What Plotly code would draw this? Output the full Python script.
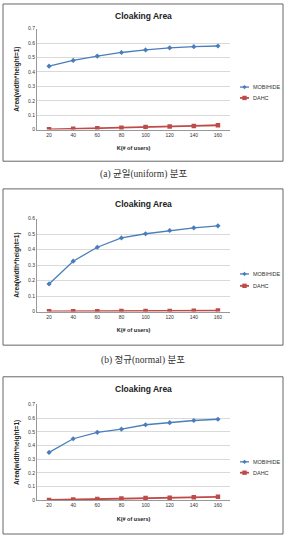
import plotly.graph_objects as go

W, H = 286, 538
k_users = ["20", "40", "60", "80", "100", "120", "140", "160"]
mobihide_uniform = [0.44, 0.48, 0.51, 0.535, 0.553, 0.567, 0.575, 0.58]
dahc_uniform = [0.002, 0.005, 0.010, 0.013, 0.018, 0.021, 0.025, 0.030]
mobihide_normal = [0.178, 0.325, 0.415, 0.475, 0.502, 0.523, 0.540, 0.553]
dahc_normal = [0.001, 0.002, 0.002, 0.003, 0.003, 0.004, 0.005, 0.006]
mobihide_third = [0.35, 0.45, 0.497, 0.52, 0.552, 0.567, 0.583, 0.592]
dahc_third = [0.003, 0.007, 0.011, 0.014, 0.017, 0.019, 0.022, 0.026]
y_ticks_07 = [0, 0.1, 0.2, 0.3, 0.4, 0.5, 0.6, 0.7]
y_ticks_06 = [0, 0.1, 0.2, 0.3, 0.4, 0.5, 0.6]
series_names = ["MOBIHIDE", "DAHC"]
captions = ["(a) 균일(uniform) 분포", "(b) 정규(normal) 분포"]

BLUE = "#4A7EBB"
RED = "#BE4B48"
FONT = "Liberation Sans"

def px(x):
    return x / W

def py(y):
    return 1 - y / H

panels = [
    dict(m=mobihide_uniform, d=dahc_uniform, ymax=0.7, ticks=y_ticks_07,
         box=(1, 160), plot=(26, 128), title_y=13, leg_y=(85, 96)),
    dict(m=mobihide_normal, d=dahc_normal, ymax=0.6, ticks=y_ticks_06,
         box=(188, 346), plot=(218, 312), title_y=203, leg_y=(274, 286)),
    dict(m=mobihide_third, d=dahc_third, ymax=0.7, ticks=y_ticks_07,
         box=(378, 537), plot=(406, 503), title_y=390, leg_y=(464, 475)),
]

fig = go.Figure()
layout = dict(
    width=W, height=H, margin=dict(l=0, r=0, t=0, b=0),
    paper_bgcolor="white", plot_bgcolor="white",
    font=dict(family=FONT, color="#222"),
    showlegend=False,
    shapes=[], annotations=[],
)

for i, p in enumerate(panels):
    n = i + 1
    xa = "x" if n == 1 else f"x{n}"
    ya = "y" if n == 1 else f"y{n}"
    fig.add_trace(go.Scatter(
        x=k_users, y=p["m"], name=series_names[0], mode="lines+markers",
        line=dict(color=BLUE, width=1.3),
        marker=dict(symbol="diamond", size=4, color=BLUE),
        xaxis=xa, yaxis=ya))
    fig.add_trace(go.Scatter(
        x=k_users, y=p["d"], name=series_names[1], mode="lines+markers",
        line=dict(color=RED, width=1.8),
        marker=dict(symbol="square", size=4.5, color=RED),
        xaxis=xa, yaxis=ya))
    xkey = "xaxis" if n == 1 else f"xaxis{n}"
    ykey = "yaxis" if n == 1 else f"yaxis{n}"
    top, bot = p["plot"]
    layout[xkey] = dict(
        type="category", range=[-0.5, 7.5], domain=[px(37), px(230)],
        anchor=ya, showgrid=False, showline=True, linecolor="#999", linewidth=1,
        ticks="", tickfont=dict(size=5, color="#333", family=FONT),
        title=dict(text="<b>K(# of users)</b>", font=dict(size=5.5, family=FONT, color="#222"),
                   standoff=9),
        fixedrange=True,
    )
    layout[ykey] = dict(
        range=[0, p["ymax"]], domain=[py(bot), py(top)], anchor=xa,
        tickvals=p["ticks"], ticktext=[f"{v:g}" for v in p["ticks"]],
        showgrid=True, gridcolor="#D9D9D9", gridwidth=1,
        showline=True, linecolor="#999", linewidth=1, zeroline=False,
        ticks="", tickfont=dict(size=5, color="#333", family=FONT),
        title=dict(text="<b>Area(width*height=1)</b>", font=dict(size=6.5, family=FONT, color="#222"),
                   standoff=7),
        fixedrange=True,
    )
    # frame
    b0, b1 = p["box"]
    layout["shapes"].append(dict(
        type="rect", xref="paper", yref="paper",
        x0=px(3), x1=px(283), y0=py(b1), y1=py(b0),
        line=dict(color="#666", width=1), fillcolor="rgba(0,0,0,0)"))
    # chart title
    layout["annotations"].append(dict(
        text="<b>Cloaking Area</b>", xref="paper", yref="paper",
        x=px(143), y=py(p["title_y"]), xanchor="center", yanchor="middle",
        showarrow=False, font=dict(size=8.5, family=FONT, color="#222")))
    # compact legend keys (Excel style)
    for name, color, ly, sym in zip(series_names, [BLUE, RED], p["leg_y"], ["diamond", "square"]):
        lw = 1.3 if sym == "diamond" else 1.8
        layout["shapes"].append(dict(
            type="line", xref="paper", yref="paper",
            x0=px(240), x1=px(249), y0=py(ly), y1=py(ly),
            line=dict(color=color, width=lw)))
        cx, cy = 244.5, ly
        if sym == "diamond":
            path = (f"M {px(cx)} {py(cy - 2.2)} L {px(cx + 2.2)} {py(cy)} "
                    f"L {px(cx)} {py(cy + 2.2)} L {px(cx - 2.2)} {py(cy)} Z")
            layout["shapes"].append(dict(
                type="path", xref="paper", yref="paper", path=path,
                fillcolor=color, line=dict(color=color, width=0)))
        else:
            layout["shapes"].append(dict(
                type="rect", xref="paper", yref="paper",
                x0=px(cx - 2.2), x1=px(cx + 2.2), y0=py(cy + 2.2), y1=py(cy - 2.2),
                fillcolor=color, line=dict(color=color, width=0)))
        layout["annotations"].append(dict(
            text=name, xref="paper", yref="paper", x=px(251), y=py(ly),
            xanchor="left", yanchor="middle", showarrow=False,
            font=dict(size=5.5, family=FONT, color="#333")))

for cap, cy in zip(captions, [173, 362]):
    layout["annotations"].append(dict(
        text=cap, xref="paper", yref="paper", x=px(143), y=py(cy),
        xanchor="center", yanchor="middle", showarrow=False,
        font=dict(size=9.5, family="Liberation Serif, Noto Sans CJK KR", color="#333")))

fig.update_layout(**layout)
fig.write_html("out.html")
